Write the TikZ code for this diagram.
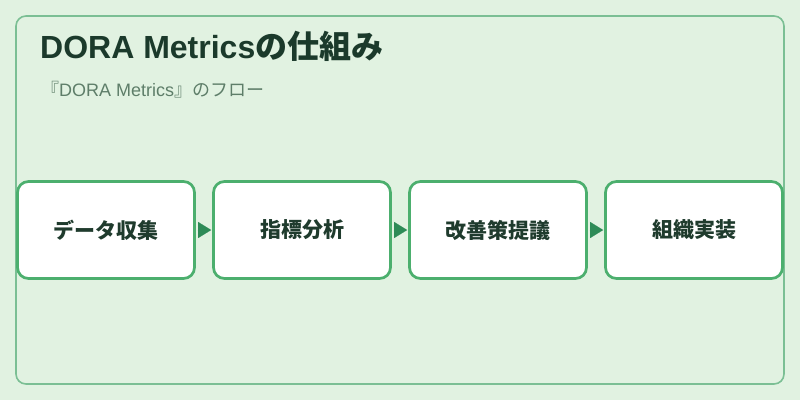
\documentclass[tikz,border=0pt]{standalone}
\usepackage{fontspec}
\setmainfont{Noto Sans CJK JP}
\newfontfamily\latinfont{Liberation Sans}
\usepackage{xcolor}
\usepackage{tikz}
\usetikzlibrary{arrows.meta, positioning}

\definecolor{pagebg}{HTML}{E1F2E1}
\definecolor{framegreen}{HTML}{7BBF94}
\definecolor{boxgreen}{HTML}{4CAF6E}
\definecolor{arrowgreen}{HTML}{2E8B57}
\definecolor{titlecol}{HTML}{1B3A2B}
\definecolor{subcol}{HTML}{5E7E69}
\definecolor{textcol}{HTML}{1F3B2D}

\begin{document}
\begin{tikzpicture}[
    x=1pt, y=-1pt,
    frame/.style={rectangle, rounded corners=10pt, draw=framegreen, line width=1.6pt, fill=pagebg, minimum width=768pt, minimum height=368pt, inner sep=0pt},
    stage/.style={rectangle, rounded corners=11pt, draw=boxgreen, line width=2.7pt, fill=white, minimum width=177pt, minimum height=97pt, align=center, inner sep=0pt, font=\fontsize{21}{25}\selectfont\bfseries, text=textcol},
    flow/.style={-{Triangle[length=13pt, width=16pt]}, line width=0.1pt, draw=arrowgreen, fill=arrowgreen, shorten <=2pt, shorten >=1pt}
]
\useasboundingbox (0,0) rectangle (800,400);
\fill[pagebg] (0,0) rectangle (800,400);

% Outer frame
\node[frame] (frame) at (400,200) {};

% Title and subtitle
\node[anchor=base west, inner sep=0pt, font=\fontsize{32}{36}\selectfont\bfseries, text=titlecol] (title) at (40,58) {{\latinfont DORA Metrics}の仕組み};
\node[anchor=base west, inner sep=0pt, font=\fontsize{18}{22}\selectfont, text=subcol] (subtitle) at (41,96) {『{\latinfont DORA Metrics}』のフロー};

% Stages
\node[stage] (collect) at (106,230) {データ収集};
\node[stage] (analyze) at (302,230) {指標分析};
\node[stage] (propose) at (498,230) {改善策提議};
\node[stage] (deploy) at (694,230) {組織実装};

% Connections
\foreach \from/\to in {collect/analyze, analyze/propose, propose/deploy}
    \draw[flow] (\from) -- (\to);

\end{tikzpicture}
\end{document}
